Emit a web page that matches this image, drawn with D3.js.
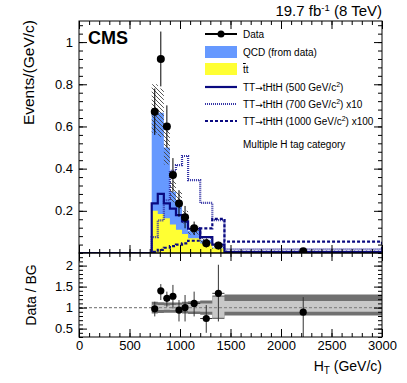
<!DOCTYPE html>
<html><head><meta charset="utf-8">
<script src="https://cdn.jsdelivr.net/npm/d3@7"></script>
<style>
body{margin:0;background:#fff}
svg{display:block}
text{font-family:"Liberation Sans",Arial,Helvetica,sans-serif;fill:#000}
</style>
</head><body>
<svg id="c" width="407" height="383"></svg>
<script>
// ---------- data ----------
const binEdges = [720, 780, 840, 900, 960, 1020, 1080, 1200, 1320, 1440, 3000];
const dataVals = [0.67, 0.92, 0.60, 0.37, 0.235, 0.17, 0.117, 0.046, 0.035, 0.008];
const dataErr  = [0.11, 0.13, 0.10, 0.08, 0.063, 0.053, 0.032, 0.02, 0.018, 0.003];
const qcdVals  = [0.48, 0.48, 0.335, 0.155, 0.14, 0.08, 0.036, 0.015, 0.004, 0.005];
const ttVals   = [0.20, 0.185, 0.165, 0.135, 0.11, 0.09, 0.07, 0.045, 0.022, 0.004];
const bgUp     = [0.80, 0.78, 0.58, 0.34, 0.29, 0.20, 0.125, 0.07, 0.034, 0.012];
const bgDn     = [0.57, 0.55, 0.42, 0.24, 0.21, 0.14, 0.088, 0.05, 0.019, 0.007];
const sig500   = [0.235, 0.28, 0.235, 0.21, 0.18, 0.15, 0.115, 0.075, 0.04, 0.004];
const sig700   = [0.075, 0.155, 0.25, 0.39, 0.417, 0.46, 0.346, 0.238, 0.156, 0.017];
const sig1000  = [0.005, 0.015, 0.025, 0.033, 0.04, 0.046, 0.058, 0.117, 0.162, 0.054];
const ratioVals = [0.97, 1.40, 1.22, 1.27, 0.94, 1.00, 1.10, 0.74, 1.34, 0.89];
const ratioHi   = [1.14, 1.56, 1.38, 1.54, 1.18, 1.30, 1.38, 1.06, 2.02, 1.25];
const ratioLo   = [0.79, 1.18, 1.02, 0.98, 0.67, 0.67, 0.79, 0.40, 0.67, 0.30];
const darkUp  = [1.14, 1.13, 1.12, 1.12, 1.12, 1.14, 1.15, 1.17, 1.29, 1.31];
const darkDn  = [0.86, 0.87, 0.88, 0.88, 0.88, 0.86, 0.85, 0.83, 0.73, 0.81];
const lightUp = [1.07, 1.06, 1.05, 1.06, 1.07, 1.08, 1.09, 1.10, 1.26, 1.16];
const lightDn = [0.93, 0.94, 0.95, 0.94, 0.93, 0.92, 0.91, 0.90, 0.76, 0.90];
const xTicks = [0, 500, 1000, 1500, 2000, 2500, 3000];
const yTicks = [0.2, 0.4, 0.6, 0.8, 1];
const rTicks = [0.5, 1, 1.5, 2];

// ---------- layout ----------
const L = 79, R = 382, T1 = 21, B1 = 253, T2 = 253, B2 = 337;
const svg = d3.select("#c");
const x = d3.scaleLinear().domain([0, 3000]).range([L, R]);
const y = d3.scaleLinear().domain([0, 1.1]).range([B1, T1]);
const yr = d3.scaleLinear().domain([0.3, 2.3]).range([B2, T2]);

const defs = svg.append("defs");
defs.append("clipPath").attr("id","cp1").append("rect").attr("x",L).attr("y",T1).attr("width",R-L).attr("height",B1-T1);
defs.append("clipPath").attr("id","cp2").append("rect").attr("x",L).attr("y",T2).attr("width",R-L).attr("height",B2-T2);
const pat = defs.append("pattern").attr("id","hatch").attr("patternUnits","userSpaceOnUse")
  .attr("width",4).attr("height",4);
pat.append("path").attr("d","M0,0L4,4M-1,3L1,5M3,-1L5,1").attr("stroke","#444").attr("stroke-width",0.9);

const stepPts = vals => binEdges.map((e,i)=>({x:e, v: vals[Math.min(i, vals.length-1)]}));
const centers = binEdges.slice(0,-1).map((e,i)=>(e+binEdges[i+1])/2);

// ---------- upper pad ----------
const g1 = svg.append("g").attr("clip-path","url(#cp1)");
const total = qcdVals.map((q,i)=>q+ttVals[i]);
const area = d3.area().curve(d3.curveStepAfter).x(d=>x(d.x)).y0(y(0)).y1(d=>y(d.v));
g1.append("path").attr("d", area(stepPts(total))).attr("fill","#6699ff");
g1.append("path").attr("d", area(stepPts(ttVals))).attr("fill","#ffff33");
const band = d3.area().curve(d3.curveStepAfter).x(d=>x(d.x)).y0(d=>y(d.lo)).y1(d=>y(d.hi));
g1.append("path").attr("d", band(binEdges.map((e,i)=>({x:e, hi:bgUp[Math.min(i,9)], lo:bgDn[Math.min(i,9)]}))))
  .attr("fill","url(#hatch)");

const line = d3.line().curve(d3.curveStepAfter).x(d=>x(d.x)).y(d=>y(d.v));
const sigPts = vals => [{x:0,v:0}, ...stepPts(vals), {x:3000, v:0}];
const c700 = "#3535a5";
g1.append("path").attr("d", line(sigPts(sig700))).attr("fill","none")
  .attr("stroke",c700).attr("stroke-width",2.2).attr("stroke-dasharray","1,1");
g1.append("path").attr("d", line(sigPts(sig1000))).attr("fill","none")
  .attr("stroke","#0a0a80").attr("stroke-width",2.2).attr("stroke-dasharray","3,2");
g1.append("path").attr("d", line(sigPts(sig500))).attr("fill","none")
  .attr("stroke","#0a0a80").attr("stroke-width",2.2);

// data
const gd = g1.append("g");
centers.forEach((c,i)=>{
  gd.append("line").attr("x1",x(c)).attr("x2",x(c)).attr("y1",y(dataVals[i]-dataErr[i])).attr("y2",y(dataVals[i]+dataErr[i]))
    .attr("stroke","#000").attr("stroke-width",1);
  gd.append("circle").attr("cx",x(c)).attr("cy",y(dataVals[i])).attr("r",4).attr("fill","#000");
});

// ---------- lower pad ----------
const g2 = svg.append("g").attr("clip-path","url(#cp2)");
g2.append("path").attr("d", band.y0(d=>yr(d.lo)).y1(d=>yr(d.hi))(binEdges.map((e,i)=>({x:e, hi:darkUp[Math.min(i,9)], lo:darkDn[Math.min(i,9)]}))))
  .attr("fill","#707070");
g2.append("path").attr("d", band(binEdges.map((e,i)=>({x:e, hi:lightUp[Math.min(i,9)], lo:lightDn[Math.min(i,9)]}))))
  .attr("fill","#c8c8c8");
g2.append("line").attr("x1",x(0)).attr("x2",x(3000)).attr("y1",yr(1)).attr("y2",yr(1))
  .attr("stroke","#888").attr("stroke-width",1.2).attr("stroke-dasharray","3,2");
centers.forEach((c,i)=>{
  g2.append("line").attr("x1",x(c)).attr("x2",x(c)).attr("y1",yr(ratioLo[i])).attr("y2",yr(ratioHi[i]))
    .attr("stroke","#333").attr("stroke-width",1);
  if (i < 9) g2.append("line").attr("x1",x(binEdges[i])).attr("x2",x(binEdges[i+1])).attr("y1",yr(ratioVals[i])).attr("y2",yr(ratioVals[i]))
    .attr("stroke","#333").attr("stroke-width",1);
  g2.append("circle").attr("cx",x(c)).attr("cy",yr(ratioVals[i])).attr("r",3.6).attr("fill","#000");
});

// ---------- frames & axes ----------
const minorX = d3.range(0, 3001, 100);
function xAxes(top, bottom, labels){
  svg.append("g").attr("transform",`translate(0,${bottom})`)
    .call(d3.axisBottom(x).tickValues(minorX).tickSize(-4).tickFormat(""));
  svg.append("g").attr("transform",`translate(0,${bottom})`)
    .call(d3.axisBottom(x).tickValues(xTicks).tickSize(-8).tickPadding(4).tickFormat(labels? d3.format("d") : ""));
  svg.append("g").attr("transform",`translate(0,${top})`)
    .call(d3.axisTop(x).tickValues(minorX).tickSize(-4).tickFormat(""));
  svg.append("g").attr("transform",`translate(0,${top})`)
    .call(d3.axisTop(x).tickValues(xTicks).tickSize(-8).tickFormat(""));
}
xAxes(T1, B1, false);
xAxes(T2, B2, true);

function yAxes(scale, major, minor, fmt){
  svg.append("g").attr("transform",`translate(${L},0)`)
    .call(d3.axisLeft(scale).tickValues(minor).tickSize(-4).tickFormat(""));
  svg.append("g").attr("transform",`translate(${L},0)`)
    .call(d3.axisLeft(scale).tickValues(major).tickSize(-8).tickPadding(6).tickFormat(fmt));
  svg.append("g").attr("transform",`translate(${R},0)`)
    .call(d3.axisRight(scale).tickValues(minor).tickSize(-4).tickFormat(""));
  svg.append("g").attr("transform",`translate(${R},0)`)
    .call(d3.axisRight(scale).tickValues(major).tickSize(-8).tickFormat(""));
}
yAxes(y, yTicks, d3.range(0, 1.1, 0.04), d3.format("~g"));
yAxes(yr, rTicks, d3.range(0.3, 2.31, 0.1), d3.format("~g"));

svg.selectAll(".domain").remove();
svg.selectAll(".tick line").attr("stroke","#000").attr("stroke-width",1);
svg.selectAll(".tick text").attr("font-size",13).attr("fill","#000")
  .style("font-family",'"Liberation Sans",Arial,Helvetica,sans-serif');

svg.append("rect").attr("x",L).attr("y",T1).attr("width",R-L).attr("height",B1-T1).attr("fill","none").attr("stroke","#000");
svg.append("rect").attr("x",L).attr("y",T2).attr("width",R-L).attr("height",B2-T2).attr("fill","none").attr("stroke","#000");

// ---------- titles ----------
const lumi = svg.append("text").attr("x",R).attr("y",16).attr("text-anchor","end").attr("font-size",15);
lumi.append("tspan").text("19.7 fb");
lumi.append("tspan").attr("dy",-5).attr("font-size",9.5).text("-1");
lumi.append("tspan").attr("dy",5).text(" (8 TeV)");

svg.append("text").attr("x",88).attr("y",44).attr("font-size",18).attr("font-weight","bold").text("CMS");

svg.append("text").attr("transform",`translate(34,20) rotate(-90)`).attr("text-anchor","end")
  .attr("font-size",15.5).text("Events/(GeV/c)");
svg.append("text").attr("transform",`translate(36,${(T2+B2)/2}) rotate(-90)`).attr("text-anchor","middle")
  .attr("font-size",14).text("Data / BG");
const xt = svg.append("text").attr("x",R).attr("y",371).attr("text-anchor","end").attr("font-size",14);
xt.append("tspan").text("H");
xt.append("tspan").attr("dy",3).attr("font-size",10).text("T");
xt.append("tspan").attr("dy",-3).text(" (GeV/c)");

// ---------- legend ----------
const lx0 = 205, lx1 = 237, tx = 243, fs = 10;
const lg = svg.append("g");
lg.append("line").attr("x1",lx0).attr("x2",lx1).attr("y1",34).attr("y2",34).attr("stroke","#000").attr("stroke-width",2);
lg.append("circle").attr("cx",(lx0+lx1)/2).attr("cy",34).attr("r",3.5).attr("fill","#000");
lg.append("text").attr("x",tx).attr("y",37.5).attr("font-size",fs).text("Data");
lg.append("rect").attr("x",lx0).attr("y",46).attr("width",lx1-lx0).attr("height",12).attr("fill","#6699ff");
lg.append("text").attr("x",tx).attr("y",55.5).attr("font-size",fs).text("QCD (from data)");
lg.append("rect").attr("x",lx0).attr("y",63).attr("width",lx1-lx0).attr("height",12).attr("fill","#ffff33");
const ttt = lg.append("text").attr("x",tx).attr("y",73).attr("font-size",fs);
ttt.append("tspan").style("text-decoration","overline").text("t");
ttt.append("tspan").text("t");
function sigLeg(yy, mass, suffix, dash, color){
  const l = lg.append("line").attr("x1",lx0).attr("x2",lx1).attr("y1",yy).attr("y2",yy)
    .attr("stroke",color).attr("stroke-width",2.2);
  if (dash) l.attr("stroke-dasharray",dash);
  const t = lg.append("text").attr("x",tx).attr("y",yy+3.5).attr("font-size",fs);
  t.append("tspan").text("TT");
  t.append("tspan").style("font-family","'DejaVu Sans'").attr("font-size",9).text("\u2192");
  t.append("tspan").text(`tHtH (${mass} GeV/c`);
  t.append("tspan").attr("dy",-4).attr("font-size",7).text("2");
  t.append("tspan").attr("dy",4).text(")" + suffix);
}
sigLeg(87, 500, "", null, "#0a0a80");
sigLeg(104, 700, " x10", "1,1", c700);
sigLeg(121, 1000, " x100", "3,2", "#0a0a80");
lg.append("text").attr("x",tx).attr("y",148).attr("font-size",fs).text("Multiple H tag category");
</script>
</body></html>
